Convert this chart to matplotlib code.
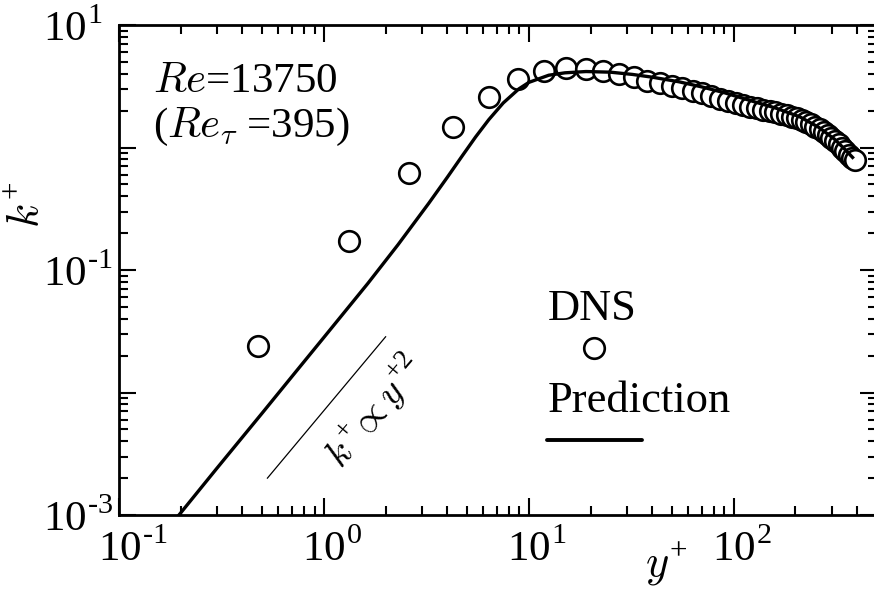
import matplotlib
matplotlib.use("Agg")
import matplotlib.pyplot as plt
import matplotlib.transforms as mtransforms
from matplotlib.ticker import FixedLocator, FixedFormatter, LogLocator, NullFormatter

plt.rcParams['font.family'] = ['Liberation Serif', 'DejaVu Serif']
plt.rcParams['mathtext.fontset'] = 'custom'
plt.rcParams['mathtext.rm'] = 'Liberation Serif'
plt.rcParams['mathtext.it'] = 'cmmi10'
plt.rcParams['mathtext.fallback'] = 'cm'

# DNS data (Re_tau = 395)
yplus_dns = [0.476, 1.32, 2.59, 4.28, 6.38, 8.90, 11.84, 15.18, 18.94, 23.09,
             27.64, 32.59, 37.92, 43.64, 49.73, 56.2, 63.0, 70.2, 77.7, 85.6,
             93.8, 102.3, 111.2, 120.3, 129.7, 139.5, 149.5, 159.7, 170.3, 181.0,
             192.0, 203.2, 214.7, 226.3, 238.1, 250.1, 262.3, 274.6, 287.0, 299.5,
             312.2, 324.9, 337.7, 350.6, 363.5, 375.6, 388.5]
k_dns = [0.024, 0.172, 0.62, 1.47, 2.58, 3.62, 4.2, 4.42, 4.38, 4.18,
         3.98, 3.74, 3.52, 3.36, 3.19, 3.05, 2.9, 2.76, 2.63, 2.5,
         2.39, 2.3, 2.22, 2.15, 2.09, 2.03, 1.98, 1.94, 1.89, 1.84,
         1.79, 1.73, 1.67, 1.61, 1.55, 1.48, 1.41, 1.34, 1.27, 1.2,
         1.13, 1.06, 0.99, 0.93, 0.87, 0.82, 0.79]

# model prediction
yplus_pred = [0.15, 0.2, 0.3, 0.5, 0.73, 1.0, 1.64, 2.3, 3.25, 4.0, 4.73, 5.5,
              6.38, 7.5, 8.94, 10.0, 12.5, 15.0, 19.0, 25.0, 32.0, 40.0, 54.0,
              70.0, 90.0, 120.0, 160.0, 210.0, 260.0, 310.0, 350.0, 380.0]
k_pred = [0.00058, 0.00104, 0.0024, 0.0068, 0.0148, 0.0282, 0.0779, 0.161, 0.351,
          0.571, 0.854, 1.22, 1.69, 2.31, 3.01, 3.40, 3.89, 4.07, 4.17, 4.12, 3.95,
          3.75, 3.44, 3.12, 2.8, 2.42, 2.1, 1.78, 1.46, 1.17, 0.96, 0.83]

# k+ ~ y+^2 guide
yplus_guide = [0.53, 2.0]
k_guide = [0.002, 0.0285]

x_major = [0.1, 1, 10, 100]
x_labels = [r'10$^{\text{-1}}$', r'10$^{\text{0}}$', r'10$^{\text{1}}$', r'10$^{\text{2}}$']
y_major = [1e-3, 1e-2, 1e-1, 1, 10]
y_labels = [r'10$^{\text{-3}}$', '', r'10$^{\text{-1}}$', '', r'10$^{\text{1}}$']

fig = plt.figure(figsize=(8.74, 5.92), dpi=100)
ax = fig.add_axes([119 / 874, 77 / 592, 758 / 874, 490 / 592])
ax.set_xscale('log')
ax.set_yscale('log')
ax.set_xlim(0.1, 500)
ax.set_ylim(1e-3, 10)

ax.plot(yplus_dns, k_dns, 'o', ms=14.8, mfc='white', mec='black', mew=1.9, zorder=2)
ax.plot(yplus_pred, k_pred, '-', color='black', lw=2.4, zorder=3)
ax.plot(yplus_guide, k_guide, '-', color='black', lw=0.9, zorder=3)

# ticks
ax.xaxis.set_major_locator(FixedLocator(x_major))
ax.xaxis.set_major_formatter(FixedFormatter(x_labels))
ax.xaxis.set_minor_locator(LogLocator(base=10, subs=range(2, 10), numticks=20))
ax.xaxis.set_minor_formatter(NullFormatter())
ax.yaxis.set_major_locator(FixedLocator(y_major))
ax.yaxis.set_major_formatter(FixedFormatter(y_labels))
ax.yaxis.set_minor_locator(LogLocator(base=10, subs=range(2, 10), numticks=20))
ax.yaxis.set_minor_formatter(NullFormatter())

ax.tick_params(which='both', direction='in', top=True, right=True, labelsize=31)
ax.tick_params(which='major', length=12.5, width=1.5)
ax.tick_params(which='minor', length=6.5, width=1.5)
ax.tick_params(axis='x', which='major', pad=11)
ax.tick_params(axis='y', which='major', pad=54.7)
for sp in ax.spines.values():
    sp.set_linewidth(2.0)

shift = mtransforms.ScaledTranslation(-0.215, 0, fig.dpi_scale_trans)
for lab in ax.get_xticklabels():
    lab.set_ha('left')
    lab.set_transform(lab.get_transform() + shift)
for lab in ax.get_yticklabels():
    lab.set_ha('left')

ax.set_xlabel(r'$y^{+}$', fontsize=32, va='center')
ax.xaxis.set_label_coords(0.722, -0.100)
ax.set_ylabel(r'$k^{+}$', fontsize=32, va='center')
ax.yaxis.set_label_coords(-0.120, 0.633)

ax.text(0.045, 0.863, r'$Re$=13750', transform=ax.transAxes, fontsize=31,
        ha='left', va='baseline')
ax.text(0.045, 0.771, r'($Re_{\tau}$ =395)', transform=ax.transAxes, fontsize=31,
        ha='left', va='baseline')
ax.text(0.337, 0.212, r'$k^{+}\!\propto y^{+2}$', transform=ax.transAxes,
        fontsize=28, rotation=50, ha='center', va='center')

# legend drawn by hand
ax.text(0.565, 0.398, 'DNS', transform=ax.transAxes, fontsize=32,
        ha='left', va='baseline')
ax.plot([0.627], [0.341], 'o', ms=14.8, mfc='white', mec='black', mew=1.9,
        transform=ax.transAxes, clip_on=False)
ax.text(0.565, 0.210, 'Prediction', transform=ax.transAxes, fontsize=32,
        ha='left', va='baseline')
ax.plot([0.5646, 0.690], [0.153, 0.153], '-', color='black', lw=2.8,
        solid_capstyle='round', transform=ax.transAxes)

fig.savefig('out.png', dpi=100)
